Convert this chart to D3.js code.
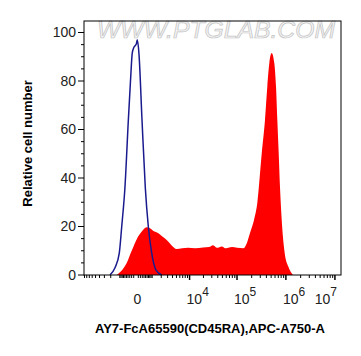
<!DOCTYPE html>
<html><head><meta charset="utf-8">
<script src="https://cdn.jsdelivr.net/npm/d3@7"></script>
<style>body{margin:0;background:#fff}svg{display:block}text{font-family:"Liberation Sans",Arial,sans-serif}</style>
</head><body>
<svg id="c" width="361" height="356"></svg>
<script>
// ---- data ----
const yTicks = [0, 20, 40, 60, 80, 100];
const xMajorTicks = [1e4, 1e5, 1e6, 1e7];
const xMajorExp = ["4", "5", "6", "7"];
const xLabel = "AY7-FcA65590(CD45RA),APC-A750-A";
const yLabel = "Relative cell number";
const watermark = "WWW.PTGLAB.COM";
// control (blue outline): [fluorescence, relative count]
const controlX = [-2100,-1480,-1050,-840,-600,-380,-260,-170,-110,20,55,133,286,482,688,959,1370,2060];
const controlY = [0,3,9,20,36,64,80,91.5,93.5,95.5,97,91,64,36,20,9,2,0];
// stained (red filled)
const stainX = [-1297,-899,-482,-197,41,233,574,818,1169,1592,2103,2839,3670,5069,6750,9230,13170,19570,26210,31810,38580,48310,59310,78850,100000,134700,158100,184800,223200,260700,320600,374600,417400,458700,513600,580400,628800,668400,714000,759000,821600,946000,1120000,1397000];
const stainY = [0,1.5,5,10,15,17.5,19.7,19.3,18,17.3,16,14.4,12.5,10.7,11,11.2,11,11.3,11.5,12.3,11.2,11.8,11,11.5,11.2,11,13,17.3,22.7,29.7,50,64,77.6,87.3,91.5,87.3,77.6,64,50,36,22.7,9,3.5,0];

// ---- layout ----
const L = 84, R = 341, T = 21, B = 275;
const svg = d3.select("#c");
const x = d3.scaleSymlog().constant(880).domain([-9230, 1.33e7]).range([L, R]);
const y = d3.scaleLinear().domain([0, 100]).range([B, 32.5]);

// watermark
svg.append("text").attr("x", 97).attr("y", 38).attr("font-size", 23).attr("font-style", "italic")
  .attr("textLength", 238).attr("lengthAdjust", "spacingAndGlyphs")
  .attr("fill", "#f4f4f4").attr("stroke", "#c4c4c4").attr("stroke-width", 0.7).text(watermark);

// red filled histogram
const stain = stainX.map((v, i) => [v, stainY[i]]);
svg.append("path").datum(stain)
  .attr("d", d3.area().x(d => x(d[0])).y0(y(0)).y1(d => y(d[1])).curve(d3.curveMonotoneX))
  .attr("fill", "#ff0000");

// blue control line
const ctrl = controlX.map((v, i) => [v, controlY[i]]);
svg.append("path").datum(ctrl)
  .attr("d", d3.line().x(d => x(d[0])).y(d => y(d[1])).curve(d3.curveMonotoneX))
  .attr("fill", "none").attr("stroke", "#1a1a8f").attr("stroke-width", 1.5);

// frame
svg.append("rect").attr("x", L).attr("y", T).attr("width", R - L).attr("height", B - T)
  .attr("fill", "none").attr("stroke", "#000").attr("stroke-width", 1);

// y ticks
const yMinor = d3.range(5, 100, 5).filter(v => v % 20 !== 0);
svg.selectAll(".ymin").data(yMinor).enter().append("line")
  .attr("x1", L - 3).attr("x2", L).attr("y1", d => y(d)).attr("y2", d => y(d)).attr("stroke", "#000");
svg.selectAll(".ymaj").data(yTicks).enter().append("line")
  .attr("x1", L - 6).attr("x2", L).attr("y1", d => y(d)).attr("y2", d => y(d)).attr("stroke", "#000");
svg.selectAll(".ylab").data(yTicks).enter().append("text")
  .attr("x", L - 8).attr("y", d => y(d)).attr("dy", "0.35em").attr("text-anchor", "end")
  .attr("font-size", 14).attr("fill", "#222").text(d => d);

// x ticks
const xMinor = [];
[100, 1000].forEach(p => { for (let m = 1; m <= 9; m++) { if (-m * p >= -9230) xMinor.push(-m * p); } });
[100, 1000, 1e4, 1e5, 1e6].forEach(p => { for (let m = 1; m <= 9; m++) { if (m > 1 || p < 1e4) xMinor.push(m * p); } });
svg.selectAll(".xmin").data(xMinor).enter().append("line")
  .attr("x1", d => x(d)).attr("x2", d => x(d)).attr("y1", B).attr("y2", B + 3).attr("stroke", "#000");
svg.selectAll(".xmaj").data(xMajorTicks).enter().append("line")
  .attr("x1", d => x(d)).attr("x2", d => x(d)).attr("y1", B).attr("y2", B + 5).attr("stroke", "#000").attr("stroke-width", 1.5);

svg.append("text").attr("x", x(0) + 1.5).attr("y", 304).attr("text-anchor", "middle")
  .attr("font-size", 14).attr("fill", "#222").text("0");
xMajorTicks.forEach((v, i) => {
  const last = i === xMajorTicks.length - 1;
  const t = svg.append("text").attr("y", 304).attr("font-size", 14).attr("fill", "#222")
    .attr("x", last ? x(v) + 2 : x(v) - 3).attr("text-anchor", last ? "end" : "start");
  t.append("tspan").text("10");
  t.append("tspan").attr("dy", -8).attr("font-size", 12).text(xMajorExp[i]);
});

// axis titles
svg.append("text").attr("x", 210).attr("y", 333).attr("text-anchor", "middle")
  .attr("font-size", 13).attr("font-weight", "bold").attr("fill", "#000").text(xLabel);
svg.append("text").attr("transform", "translate(27.5,143.5) rotate(-90)").attr("text-anchor", "middle")
  .attr("dy", "0.35em").attr("font-size", 13).attr("font-weight", "bold").attr("fill", "#000").text(yLabel);
</script>
</body></html>
